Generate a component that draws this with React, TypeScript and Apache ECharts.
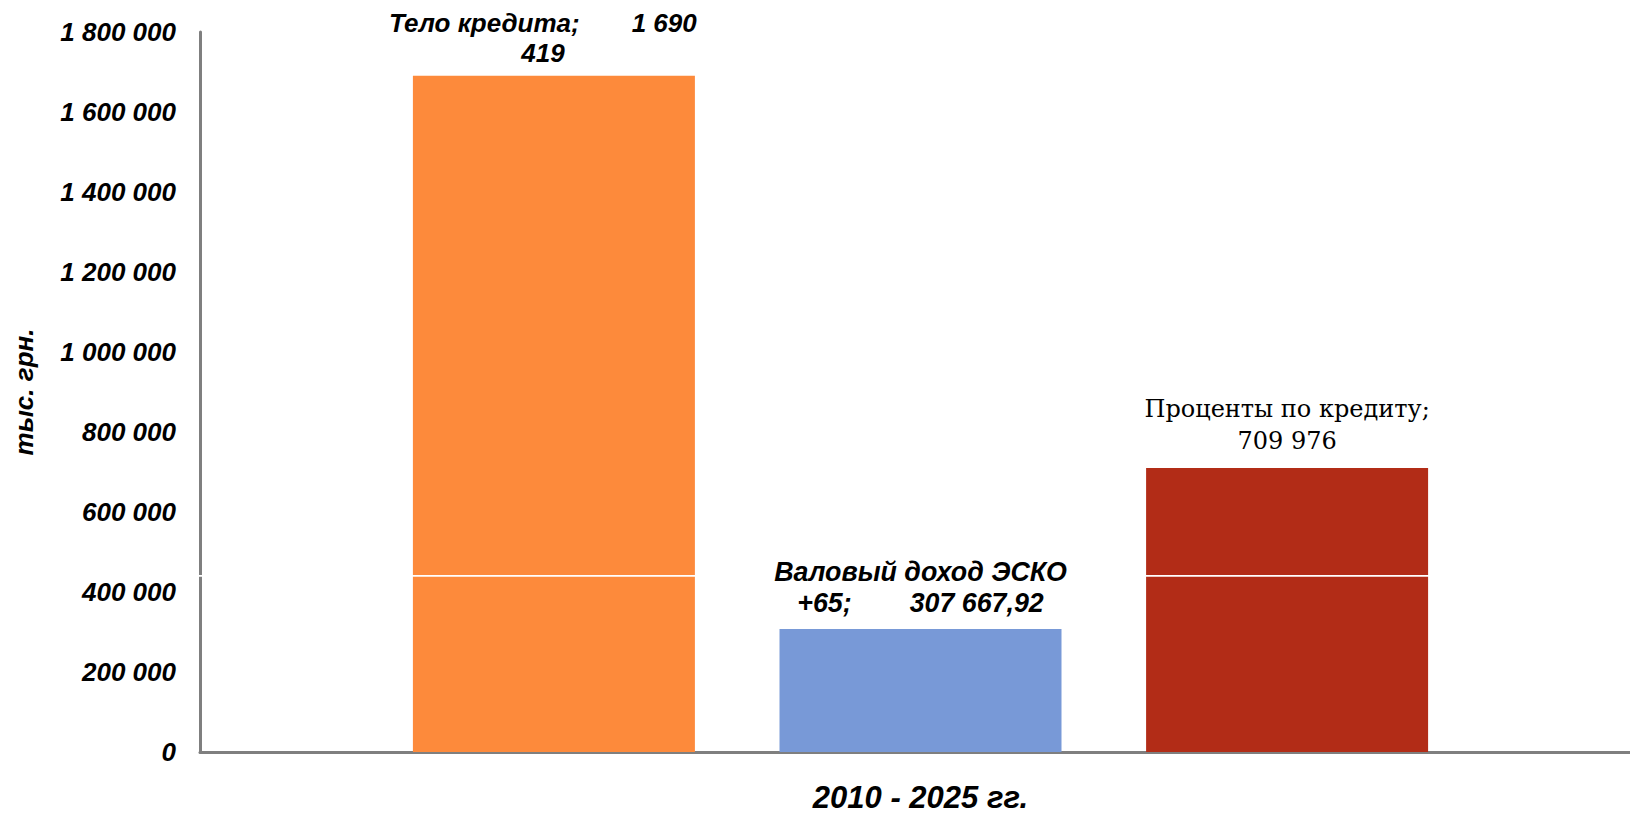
import React, { useEffect, useRef } from 'react';
import * as echarts from 'echarts';

const categories = ['2010 - 2025 гг.'];
const seriesNames = ['Тело кредита', 'Валовый доход ЭСКО +65', 'Проценты по кредиту'];
const bodyValues = [1690419];
const incomeValues = [307667.92];
const interestValues = [709976];
const yMin = 0;
const yMax = 1800000;
const yStep = 200000;
const yTitle = 'тыс. грн.';

const SANS = '"Liberation Sans", Arial, sans-serif';
const SERIF = '"DejaVu Serif", "Liberation Serif", serif';

function fmt(v: number): string {
  const neg = v < 0;
  const abs = Math.abs(v);
  const intPart = Math.floor(abs);
  const frac = abs - intPart;
  const s = String(intPart).replace(/\B(?=(\d{3})+(?!\d))/g, ' ');
  let out = s;
  if (frac > 1e-9) {
    out += ',' + Math.round(frac * 100).toString().padStart(2, '0');
  }
  return (neg ? '-' : '') + out;
}

const boldItalic = {
  fontFamily: SANS,
  fontWeight: 'bold' as const,
  fontStyle: 'italic' as const,
  color: '#000',
};

export default function App() {
  const ref = useRef<HTMLDivElement>(null);
  useEffect(() => {
    document.body.style.margin = '0';
    const chart = echarts.init(ref.current!, null, { renderer: 'svg' });
    chart.setOption({
      animation: false,
      backgroundColor: '#fff',
      grid: { left: 200, right: 0, top: 32, bottom: 63, containLabel: false },
      xAxis: {
        type: 'category',
        data: categories,
        axisLine: { show: true, lineStyle: { color: '#7f7f7f', width: 3 } },
        axisTick: { show: false },
        axisLabel: { ...boldItalic, fontSize: 31, margin: 30 },
        splitLine: { show: false },
      },
      yAxis: {
        type: 'value',
        min: yMin,
        max: yMax,
        interval: yStep,
        axisLine: { show: true, lineStyle: { color: '#7f7f7f', width: 3 } },
        axisTick: { show: false },
        splitLine: { show: false },
        axisLabel: { ...boldItalic, fontSize: 26, margin: 24, formatter: (v: number) => fmt(v) },
        name: yTitle,
        nameLocation: 'middle',
        nameRotate: 90,
        nameGap: 163,
        nameTextStyle: { ...boldItalic, fontSize: 26 },
      },
      series: [
        {
          name: seriesNames[0],
          type: 'bar',
          data: bodyValues,
          barWidth: 282,
          barGap: '30%',
          itemStyle: { color: '#FD8A3B' },
          label: {
            show: true,
            position: 'top',
            distance: 8,
            offset: [-11, 0],
            formatter: (p: any) => {
              const s = fmt(p.value);
              const i = s.lastIndexOf(' ');
              return `{a|Тело кредита;}{b|${s.slice(0, i)}}\n{a|${s.slice(i + 1)}}`;
            },
            rich: {
              a: { ...boldItalic, fontSize: 26, lineHeight: 30 },
              b: { ...boldItalic, fontSize: 26, lineHeight: 30, padding: [0, 0, 0, 52] },
            },
          },
        },
        {
          name: seriesNames[1],
          type: 'bar',
          data: incomeValues,
          barWidth: 282,
          barGap: '30%',
          itemStyle: { color: '#7899D7' },
          label: {
            show: true,
            position: 'top',
            distance: 10,
            formatter: (p: any) => `{a|Валовый доход ЭСКО}\n{a|+65;}{b|${fmt(p.value)}}`,
            rich: {
              a: { ...boldItalic, fontSize: 26.8, lineHeight: 31 },
              b: { ...boldItalic, fontSize: 26.8, lineHeight: 31, padding: [0, 0, 0, 58] },
            },
          },
        },
        {
          name: seriesNames[2],
          type: 'bar',
          data: interestValues,
          barWidth: 282,
          barGap: '30%',
          itemStyle: { color: '#B22C17' },
          label: {
            show: true,
            position: 'top',
            distance: 11,
            formatter: (p: any) => `Проценты по кредиту;\n${fmt(p.value)}`,
            fontFamily: SERIF,
            fontSize: 24,
            lineHeight: 32,
            color: '#000',
          },
        },
      ],
      graphic: [
        {
          type: 'rect',
          left: 0,
          top: 575,
          shape: { width: 772, height: 1.7 },
          style: { fill: '#ffffff' },
          z: 100,
          silent: true,
        },
        {
          type: 'rect',
          left: 1080,
          top: 575,
          shape: { width: 570, height: 1.7 },
          style: { fill: '#ffffff' },
          z: 100,
          silent: true,
        },
      ],
    });
    return () => chart.dispose();
  }, []);
  return (
    <div style={{ width: 1630, height: 815, overflow: 'hidden', position: 'relative' }}>
      <div ref={ref} style={{ width: 1641, height: 815 }} />
    </div>
  );
}
